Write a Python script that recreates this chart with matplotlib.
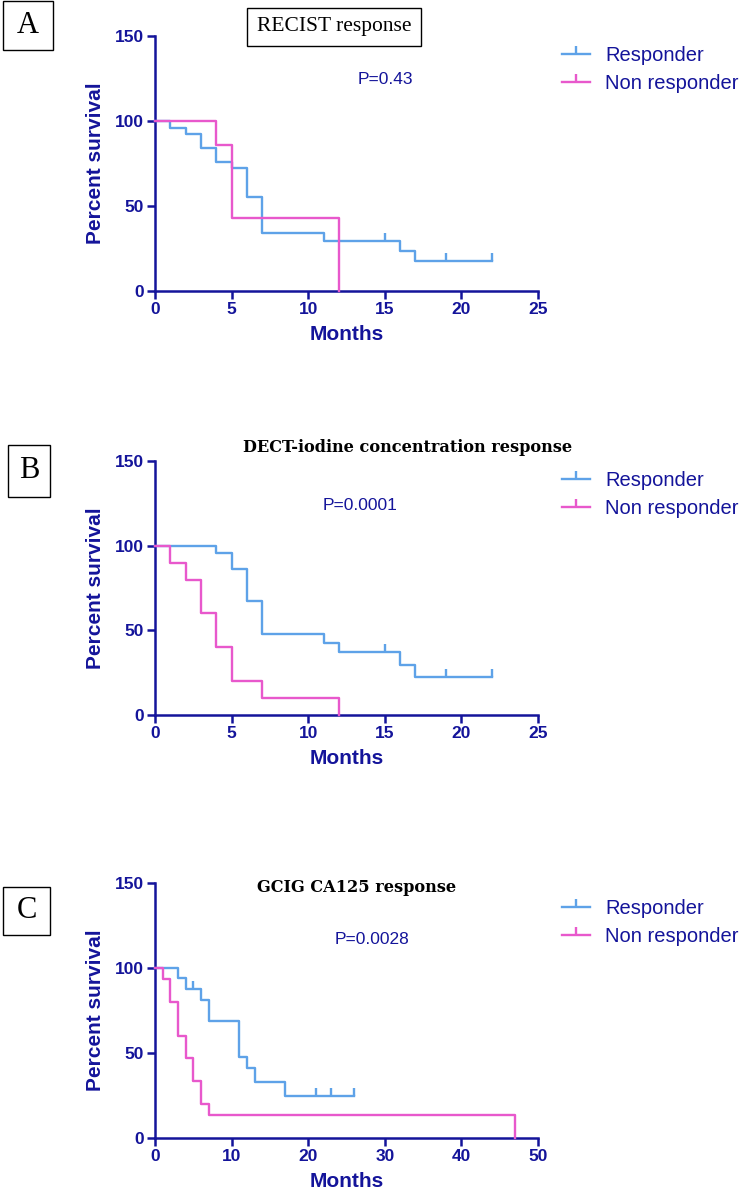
import matplotlib
matplotlib.use("Agg")
from matplotlib import pyplot as plt
from matplotlib.lines import Line2D
from matplotlib.patches import Rectangle

NAVY = "#14149a"
BLUE = "#5ea2e8"
PINK = "#e858cc"

# Panel A - RECIST response
recist_resp_t = [0, 1, 2, 3, 4, 5, 6, 7, 11, 16, 17, 22]
recist_resp_s = [100, 96, 92, 84, 76, 72, 55, 34, 29.4, 23.5, 17.6, 17.6]
recist_resp_cens = [15, 19, 22]
recist_non_t = [0, 4, 5, 12]
recist_non_s = [100, 85.7, 42.9, 0]

# Panel B - DECT-iodine concentration response
dect_resp_t = [0, 4, 5, 6, 7, 11, 12, 16, 17, 22]
dect_resp_s = [100, 95.5, 86.2, 67.3, 47.8, 42.7, 37.2, 29.7, 22.4, 22.4]
dect_resp_cens = [15, 19, 22]
dect_non_t = [0, 1, 2, 3, 4, 5, 7, 12]
dect_non_s = [100, 90, 80, 60, 40, 20, 10, 0]

# Panel C - GCIG CA125 response
gcig_resp_t = [0, 3, 4, 6, 7, 11, 12, 13, 17, 26]
gcig_resp_s = [100, 93.8, 87.5, 81.3, 68.8, 47.7, 41.2, 32.5, 24.4, 24.4]
gcig_resp_cens = [5, 21, 23, 26]
gcig_non_t = [0, 1, 2, 3, 4, 5, 6, 7, 47]
gcig_non_s = [100, 93.3, 80, 60, 46.7, 33.3, 20, 13.3, 0]

panel_letters = ["A", "B", "C"]
panel_titles = ["RECIST response", "DECT-iodine concentration response", "GCIG CA125 response"]
p_values = ["P=0.43", "P=0.0001", "P=0.0028"]
x_limits = [25, 25, 50]
x_steps = [5, 5, 10]
legend_labels = ["Responder", "Non responder"]


def surv_at(times, surv, t):
    """ value of a step curve at time t """
    val = surv[0]
    for ti, si in zip(times, surv):
        if ti <= t:
            val = si
    return val


def draw_km(ax, times, surv, cens, color):
    ax.step(times, surv, where="post", color=color, lw=1.7, clip_on=False, zorder=3)
    if cens:
        ax.plot(cens, [surv_at(times, surv, c) for c in cens], ls="none",
                marker=2, markersize=6, mew=1.7, color=color, clip_on=False, zorder=3)


fig = plt.figure(figsize=(7.44, 11.94), dpi=100)
W, H = 744, 1194

# axes boxes in pixels: left, top(y=150), right, bottom(y=0)
boxes = [(155, 35.7, 538, 290.7), (155, 461, 538, 715), (155, 883, 538, 1137.5)]
curves = [
    (recist_resp_t, recist_resp_s, recist_resp_cens, recist_non_t, recist_non_s),
    (dect_resp_t, dect_resp_s, dect_resp_cens, dect_non_t, dect_non_s),
    (gcig_resp_t, gcig_resp_s, gcig_resp_cens, gcig_non_t, gcig_non_s),
]
p_pos = [(385, 79), (360, 505), (372, 940)]
leg_top = [46, 471, 899]

for i, (l, t, r, b) in enumerate(boxes):
    ax = fig.add_axes([l / W, 1 - b / H, (r - l) / W, (b - t) / H])
    rt, rs, rc, nt, ns = curves[i]
    draw_km(ax, rt, rs, rc, BLUE)
    draw_km(ax, nt, ns, [], PINK)

    ax.set_xlim(0, x_limits[i])
    ax.set_ylim(0, 150)
    ax.set_xticks(range(0, x_limits[i] + 1, x_steps[i]))
    ax.set_yticks([0, 50, 100, 150])
    for side in ["top", "right"]:
        ax.spines[side].set_visible(False)
    for side in ["left", "bottom"]:
        ax.spines[side].set_color(NAVY)
        ax.spines[side].set_linewidth(1.8)
    ax.tick_params(direction="out", length=6, width=1.8, color=NAVY,
                   labelcolor=NAVY, labelsize=12.5, pad=2)
    for lab in ax.get_xticklabels() + ax.get_yticklabels():
        lab.set_fontweight("bold")
        lab.set_family("Liberation Sans")

    ax.set_ylabel("Percent survival", fontsize=15, fontweight="bold",
                  color=NAVY, family="Liberation Sans")
    ax.yaxis.set_label_coords(-0.13, 0.5)
    ax.set_xlabel("Months", fontsize=15, fontweight="bold",
                  color=NAVY, family="Liberation Sans")
    ax.xaxis.set_label_coords(0.5, -0.135)

    px, py = p_pos[i]
    fig.text(px / W, 1 - py / H, p_values[i], ha="center", va="center",
             fontsize=12.5, color=NAVY, family="Liberation Sans")

    handles = [
        Line2D([], [], color=BLUE, lw=1.7, marker=2, markersize=6, mew=1.7),
        Line2D([], [], color=PINK, lw=1.7, marker=2, markersize=6, mew=1.7),
    ]
    ax.legend(handles, legend_labels, loc="upper left",
              bbox_to_anchor=(562 / W, 1 - leg_top[i] / H), bbox_transform=fig.transFigure,
              frameon=False, prop={"family": "Liberation Sans", "size": 14.5},
              labelcolor=NAVY, handlelength=1.4, handletextpad=0.75,
              borderpad=0, borderaxespad=0, labelspacing=0.45)

# panel letters in boxes
letter_boxes = [(3, 1, 53, 50), (8, 445, 50, 497), (3, 887, 50, 935)]
for letter, (l, t, r, b) in zip(panel_letters, letter_boxes):
    fig.patches.append(Rectangle((l / W, 1 - b / H), (r - l) / W, (b - t) / H,
                                 transform=fig.transFigure, fill=False,
                                 edgecolor="black", lw=1))
    fig.text((l + r) / 2 / W, 1 - (t + b) / 2 / H, letter, ha="center", va="center",
             fontsize=22, family="Liberation Serif")

# panel titles
fig.text(334 / W, 1 - 27 / H, panel_titles[0], ha="center", va="center",
         fontsize=15.5, family="Liberation Serif",
         bbox=dict(boxstyle="square,pad=0.45", fc="white", ec="black", lw=1))
fig.text(243 / W, 1 - 447 / H, panel_titles[1], ha="left", va="center",
         fontsize=11.6, fontweight="bold", family="DejaVu Serif")
fig.text(257 / W, 1 - 888 / H, panel_titles[2], ha="left", va="center",
         fontsize=11.6, fontweight="bold", family="DejaVu Serif")

fig.savefig("out.png", dpi=100)
